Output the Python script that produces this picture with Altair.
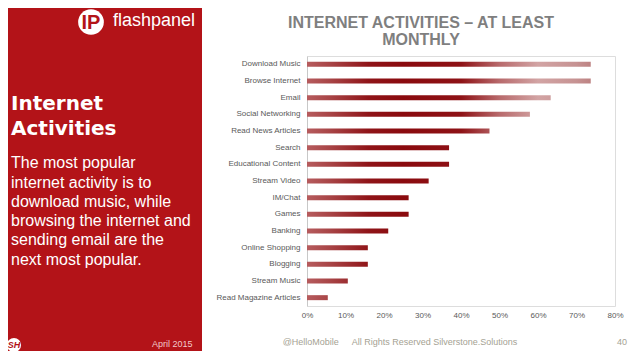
import altair as alt
import pandas as pd

# ---- data ----
activities = [
    "Download Music", "Browse Internet", "Email", "Social Networking",
    "Read News Articles", "Search", "Educational Content", "Stream Video",
    "IM/Chat", "Games", "Banking", "Online Shopping", "Blogging",
    "Stream Music", "Read Magazine Articles",
]
shares = [0.737, 0.737, 0.633, 0.579, 0.474, 0.369, 0.369, 0.316,
          0.264, 0.264, 0.211, 0.158, 0.158, 0.106, 0.054]
x_ticks = [0, 0.1, 0.2, 0.3, 0.4, 0.5, 0.6, 0.7, 0.8]

title_lines = ["INTERNET ACTIVITIES \u2013 AT LEAST", "MONTHLY"]
heading_lines = ["Internet", "Activities"]
body_lines = [
    "The most popular",
    "internet activity is to",
    "download music, while",
    "browsing the internet and",
    "sending email are the",
    "next most popular.",
]
footer_date = "April 2015"
footer_handle = "@HelloMobile"
footer_rights = "All Rights Reserved Silverstone.Solutions"
page_number = "40"

# ---- styling ----
RED = "#b31318"
# gradient along the value axis (absolute share, colour)
GRAD = [
    (0.00, "#b65c5e"), (0.06, "#a84446"), (0.16, "#8f1418"),
    (0.25, "#8a0a0e"), (0.40, "#8e1216"), (0.50, "#b86a6c"),
    (0.60, "#d2a4a4"), (0.70, "#c69292"), (0.76, "#b87878"),
]


def _hex(c):
    return tuple(int(c[i:i + 2], 16) for i in (1, 3, 5))


def _interp(p):
    for (p0, c0), (p1, c1) in zip(GRAD, GRAD[1:]):
        if p0 <= p <= p1:
            t = (p - p0) / (p1 - p0)
            a, b = _hex(c0), _hex(c1)
            return "#" + "".join(f"{round(x + (y - x) * t):02x}" for x, y in zip(a, b))
    return GRAD[-1][1]


def gradient_for(v):
    stops = [{"offset": p / v, "color": c} for p, c in GRAD if p < v]
    stops.append({"offset": 1, "color": _interp(v)})
    return {"gradient": "linear", "x1": 0, "x2": 1, "y1": 0, "y2": 0, "stops": stops}


df = pd.DataFrame({"activity": activities, "share": shares})

base = alt.Chart(df).encode(
    y=alt.Y("activity:N", sort=activities,
            axis=alt.Axis(title=None, labelFont="Liberation Sans", labelFontSize=8,
                          labelColor="#595959", ticks=False, tickSize=0, labelPadding=7,
                          domainColor="#c8c8c8", domainWidth=1, grid=False, labelLimit=200)),
    x=alt.X("share:Q", scale=alt.Scale(domain=[0, 0.8], nice=False),
            axis=alt.Axis(title=None, format="%", values=x_ticks, labelFont="Liberation Sans",
                          labelFontSize=8, labelColor="#595959", ticks=False, tickSize=0,
                          domain=False, grid=False, labelPadding=5, labelFlush=False,
                          labelOverlap=False)),
)

bar_layers = [base.mark_bar(opacity=0, size=5)]
for name, v in zip(activities, shares):
    bar_layers.append(
        base.transform_filter(alt.datum.activity == name).mark_bar(size=5, color=gradient_for(v))
    )

one = alt.Chart(pd.DataFrame({"k": [0]}))

panel = one.mark_rect(color=RED).encode(
    x=alt.value(-299), x2=alt.value(-105), y=alt.value(-48), y2=alt.value(295))

logo_circle = one.mark_point(filled=True, color="white", opacity=1, size=660, shape="circle").encode(
    x=alt.value(-216), y=alt.value(-34))
logo_mark = one.mark_text(font="Liberation Sans", fontSize=20, fontWeight="bold", color=RED,
                          align="center", baseline="middle").encode(
    x=alt.value(-216), y=alt.value(-33), text=alt.value("IP"))
logo_word = one.mark_text(font="Liberation Sans", fontSize=18, color="white",
                          align="left", baseline="alphabetic").encode(
    x=alt.value(-194), y=alt.value(-30), text=alt.value("flashpanel"))

heading = one.mark_text(font="DejaVu Sans", fontSize=20, fontWeight="bold", color="white",
                        align="left", baseline="alphabetic", lineHeight=25).encode(
    x=alt.value(-296), y=alt.value(54), text=alt.value(heading_lines))
body = one.mark_text(font="Liberation Sans", fontSize=16, color="white",
                     align="left", baseline="alphabetic", lineHeight=19.3).encode(
    x=alt.value(-296), y=alt.value(112.3), text=alt.value(body_lines))

title = one.mark_text(font="Liberation Sans", fontSize=16, fontWeight="bold", color="#7f7f7f",
                      align="center", baseline="alphabetic", lineHeight=16.7).encode(
    x=alt.value(114), y=alt.value(-27.7), text=alt.value(title_lines))

sh_circle = one.mark_point(filled=True, color="white", opacity=1, size=200, shape="circle").encode(
    x=alt.value(-293), y=alt.value(289))
sh_text = one.mark_text(font="Liberation Sans", fontSize=9, fontWeight="bold", fontStyle="italic",
                        color=RED, align="center", baseline="middle").encode(
    x=alt.value(-293), y=alt.value(289), text=alt.value("SH"))

date_text = one.mark_text(font="Liberation Sans", fontSize=9, color="#f2c9c9",
                          align="left", baseline="alphabetic").encode(
    x=alt.value(-155), y=alt.value(290.5), text=alt.value(footer_date))
handle_text = one.mark_text(font="Liberation Sans", fontSize=9, color="#a5a293",
                            align="left", baseline="alphabetic").encode(
    x=alt.value(-24.3), y=alt.value(289), text=alt.value(footer_handle))
rights_text = one.mark_text(font="Liberation Sans", fontSize=9, color="#a5a293",
                            align="left", baseline="alphabetic").encode(
    x=alt.value(44.7), y=alt.value(289), text=alt.value(footer_rights))
page_text = one.mark_text(font="Liberation Sans", fontSize=9, color="#a5a293",
                          align="left", baseline="alphabetic").encode(
    x=alt.value(310), y=alt.value(289), text=alt.value(page_number))

chart = alt.layer(
    panel, logo_circle, logo_mark, logo_word, heading, body, title,
    sh_circle, sh_text, date_text, handle_text, rights_text, page_text,
    *bar_layers,
).properties(
    width=308, height=250,
    autosize=alt.AutoSizeParams(type="none"),
    padding={"left": 299, "top": 48, "right": 15, "bottom": 45},
).configure_view(stroke=None).configure(background="white")

chart.save("out.html", embed_options={"renderer": "svg", "actions": False})
